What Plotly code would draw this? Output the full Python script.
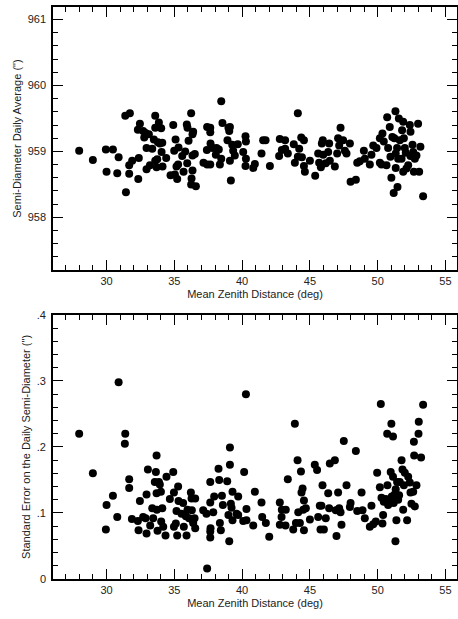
import plotly.graph_objects as go

# Top panel: mean zenith distance (deg) vs semi-diameter daily average (")
zd_top = [27.98, 28.99, 29.95, 30.0, 30.47, 30.79, 30.89, 31.38, 31.72, 31.43, 31.67, 31.89, 31.67, 32.34, 32.38,
          32.46, 32.31, 32.70, 32.78, 32.88, 32.95, 32.95, 33.12, 33.20, 33.37, 33.49, 33.59, 33.59, 33.59, 33.69,
          33.74, 33.79, 33.86, 33.93, 34.03, 34.06, 34.11, 34.13, 34.40, 34.72, 34.92, 34.99, 35.04, 35.09, 35.16,
          35.21, 35.28, 35.31, 35.58, 35.68, 35.80, 35.92, 35.95, 35.97, 36.05, 36.24, 36.27, 36.24, 36.34, 36.34,
          36.39, 36.34, 36.51, 36.59, 37.42, 37.40, 37.15, 37.42, 37.65, 37.65, 37.67, 37.65, 37.82, 38.06, 38.11,
          38.28, 38.36, 38.46, 38.46, 38.55, 38.92, 38.99, 39.05, 39.10, 39.17, 39.10, 39.27, 39.34, 39.46, 39.68,
          40.08, 40.25, 40.28, 40.28, 40.25, 40.82, 40.94, 41.43, 41.55, 41.73, 42.05, 42.73, 42.78, 42.93, 43.17,
          43.17, 43.37, 43.81, 43.89, 44.11, 44.11, 44.21, 44.36, 44.41, 44.56, 44.56, 44.63, 45.00, 45.39, 45.61,
          45.68, 45.81, 45.88, 45.95, 45.98, 46.17, 46.35, 46.42, 46.47, 46.84, 47.01, 47.08, 47.16, 47.26, 47.45,
          47.58, 47.70, 47.95, 48.00, 48.39, 48.49, 48.68, 48.98, 49.05, 49.42, 49.54, 49.67, 49.91, 50.16, 50.16,
          50.28, 50.35, 50.45, 50.65, 50.70, 50.77, 50.89, 50.94, 51.01, 51.08, 51.18, 51.31, 51.23, 51.33, 51.33,
          51.43, 51.46, 51.51, 51.56, 51.63, 51.76, 51.80, 51.88, 51.88, 51.93, 52.00, 52.07, 52.12, 52.25, 52.37,
          52.42, 52.42, 52.57, 52.62, 52.67, 52.74, 52.86, 52.98, 53.06, 53.15, 53.35]
sd_avg = [959.01, 958.87, 959.03, 958.69, 959.03, 958.67, 958.91, 959.54, 959.58, 958.38, 958.79, 958.86, 958.66, 958.58, 958.90,
          959.42, 959.33, 959.31, 959.21, 959.28, 959.05, 958.73, 959.26, 958.79, 959.04, 959.18, 959.54, 959.36, 958.86, 958.76,
          958.88, 959.14, 959.44, 959.12, 959.35, 958.99, 959.13, 958.77, 958.90, 958.64, 959.40, 959.01, 958.65, 959.18, 958.77,
          958.58, 958.80, 959.06, 958.93, 958.69, 959.00, 959.41, 958.82, 959.36, 959.16, 959.58, 958.59, 958.50, 959.26, 958.94,
          959.30, 958.71, 958.96, 958.47, 959.37, 959.02, 958.83, 958.80, 959.29, 959.36, 959.12, 958.80, 959.05, 958.95, 959.05,
          959.03, 958.80, 958.89, 959.76, 959.43, 959.17, 959.36, 959.31, 958.86, 958.56, 959.37, 959.10, 959.01, 958.94, 959.11,
          958.99, 959.23, 959.15, 958.89, 958.78, 958.75, 958.81, 958.97, 959.17, 959.17, 958.78, 958.93, 959.19, 959.02, 959.17,
          959.04, 958.97, 959.11, 958.83, 959.58, 958.92, 959.04, 959.21, 958.91, 959.17, 958.78, 958.69, 958.86, 958.63, 958.97,
          958.83, 958.76, 959.12, 959.17, 958.95, 958.82, 958.99, 959.12, 958.86, 958.77, 958.97, 959.20, 959.09, 959.36, 959.17,
          959.01, 958.97, 959.12, 958.54, 958.57, 958.83, 958.85, 959.01, 958.89, 958.80, 958.95, 959.09, 959.05, 958.83, 959.20,
          958.80, 959.27, 959.15, 958.79, 959.52, 959.05, 959.37, 958.92, 958.60, 959.22, 958.37, 959.61, 959.20, 958.97, 958.75,
          959.05, 958.46, 958.89, 959.50, 959.17, 958.89, 959.32, 959.45, 958.69, 959.20, 959.05, 958.98, 958.74, 958.79, 959.40,
          959.30, 958.93, 959.10, 958.99, 958.69, 958.89, 958.94, 959.42, 958.69, 959.07, 958.32]

# Bottom panel: mean zenith distance (deg) vs standard error on the daily semi-diameter (")
zd_bot = [27.98, 28.99, 29.95, 30.0, 30.47, 30.79, 30.89, 31.38, 31.35, 31.67, 31.67, 31.87, 32.31, 32.36, 32.46,
          32.70, 32.88, 32.95, 32.95, 33.05, 33.22, 33.37, 33.44, 33.56, 33.64, 33.69, 33.69, 33.71, 33.76, 33.86,
          33.93, 34.01, 34.03, 34.11, 34.18, 34.35, 34.42, 34.67, 34.92, 34.97, 34.97, 35.11, 35.16, 35.21, 35.28,
          35.31, 35.53, 35.65, 35.70, 35.85, 35.90, 35.97, 36.09, 36.22, 36.27, 36.29, 36.34, 36.39, 36.49, 36.54,
          36.54, 37.13, 37.37, 37.42, 37.65, 37.65, 37.67, 37.65, 37.65, 37.87, 37.94, 38.26, 38.31, 38.36, 38.43,
          38.51, 38.58, 38.90, 38.99, 39.10, 39.10, 39.05, 39.17, 39.22, 39.29, 39.29, 39.59, 39.71, 39.71, 40.08,
          40.15, 40.28, 40.32, 40.32, 40.82, 40.94, 41.43, 41.48, 41.75, 42.00, 42.78, 42.78, 42.91, 42.93, 43.20,
          43.22, 43.37, 43.77, 43.89, 43.97, 44.09, 44.14, 44.26, 44.34, 44.38, 44.46, 44.51, 44.56, 44.56, 44.70,
          45.00, 45.36, 45.53, 45.61, 45.73, 45.78, 45.85, 45.93, 46.03, 46.17, 46.35, 46.42, 46.47, 46.84, 46.91,
          46.96, 47.08, 47.16, 47.26, 47.33, 47.50, 47.70, 47.95, 48.00, 48.39, 48.49, 48.81, 48.88, 49.05, 49.42,
          49.54, 49.67, 49.86, 49.96, 50.16, 50.23, 50.28, 50.35, 50.40, 50.45, 50.60, 50.70, 50.72, 50.77, 50.89,
          50.96, 51.01, 51.04, 51.13, 51.13, 51.18, 51.25, 51.31, 51.33, 51.38, 51.43, 51.51, 51.58, 51.63, 51.76,
          51.83, 51.88, 51.93, 52.00, 52.17, 52.25, 52.37, 52.42, 52.49, 52.62, 52.67, 52.69, 52.74, 52.86, 53.01,
          53.03, 53.20, 53.35]
sd_err = [0.220, 0.160, 0.075, 0.112, 0.126, 0.094, 0.298, 0.220, 0.205, 0.151, 0.138, 0.091, 0.088, 0.074, 0.118,
          0.094, 0.092, 0.128, 0.069, 0.166, 0.081, 0.107, 0.092, 0.147, 0.162, 0.187, 0.130, 0.105, 0.073, 0.147,
          0.143, 0.132, 0.087, 0.107, 0.079, 0.066, 0.155, 0.121, 0.162, 0.131, 0.079, 0.084, 0.103, 0.066, 0.140,
          0.118, 0.099, 0.115, 0.079, 0.095, 0.066, 0.105, 0.092, 0.131, 0.122, 0.104, 0.089, 0.085, 0.092, 0.122,
          0.077, 0.104, 0.099, 0.016, 0.147, 0.116, 0.077, 0.072, 0.063, 0.101, 0.125, 0.167, 0.150, 0.085, 0.074,
          0.126, 0.112, 0.148, 0.097, 0.199, 0.173, 0.057, 0.114, 0.108, 0.132, 0.089, 0.099, 0.125, 0.097, 0.088,
          0.162, 0.280, 0.106, 0.089, 0.081, 0.132, 0.116, 0.094, 0.085, 0.064, 0.116, 0.082, 0.094, 0.105, 0.081,
          0.105, 0.151, 0.075, 0.235, 0.085, 0.180, 0.101, 0.085, 0.163, 0.131, 0.137, 0.105, 0.119, 0.074, 0.107,
          0.090, 0.173, 0.165, 0.094, 0.111, 0.075, 0.111, 0.142, 0.075, 0.092, 0.130, 0.107, 0.175, 0.180, 0.104,
          0.065, 0.131, 0.107, 0.101, 0.082, 0.209, 0.142, 0.109, 0.115, 0.194, 0.103, 0.131, 0.104, 0.092, 0.079,
          0.111, 0.083, 0.087, 0.161, 0.139, 0.265, 0.123, 0.084, 0.097, 0.117, 0.121, 0.220, 0.142, 0.112, 0.116,
          0.162, 0.235, 0.125, 0.216, 0.155, 0.115, 0.128, 0.057, 0.136, 0.089, 0.147, 0.120, 0.127, 0.147, 0.180,
          0.166, 0.105, 0.142, 0.161, 0.089, 0.155, 0.146, 0.131, 0.114, 0.132, 0.208, 0.187, 0.110, 0.142, 0.220,
          0.238, 0.184, 0.264]

# Tick label text for the lower panel (leading zero dropped as in the original)
bot_label_alias = {"0.1": ".1", "0.2": ".2", "0.3": ".3", "0.4": ".4", "0.0": "0"}

FONT = "Liberation Sans, Arial, sans-serif"
TXT = "#222"
X_RANGE = [26.05, 55.85]
TOP_Y_RANGE = [957.2, 961.19]
BOT_Y_RANGE = [0, 0.4]
TOP_DOM = [0.540, 1.0]
BOT_DOM = [0.0, 0.4617]

marker = dict(color="black", size=8, line=dict(width=0))
label_font = dict(family=FONT, size=11, color=TXT)

fig = go.Figure()
fig.add_trace(go.Scatter(x=zd_top, y=sd_avg, mode="markers", marker=marker, xaxis="x", yaxis="y",
                         showlegend=False))
fig.add_trace(go.Scatter(x=zd_bot, y=sd_err, mode="markers", marker=marker, xaxis="x2", yaxis="y2",
                         showlegend=False))


def tick_ax(overlay, side, anchor, rng, tick0, dtick, length, frame=False):
    """Overlay axis that only draws inward tick marks (and optionally the frame lines)."""
    d = dict(overlaying=overlay, side=side, anchor=anchor, range=rng, tickmode="linear", tick0=tick0,
             dtick=dtick, ticks="inside", ticklen=length, tickwidth=1, tickcolor="black",
             showgrid=False, zeroline=False, showline=False, showticklabels=False)
    if frame:
        d.update(showline=True, mirror=True, linecolor="black", linewidth=1.5)
    return d


layout_axes = {}
# (main x, main y, y range, y tick0, y major, y minor, first overlay number)
panels = [("x", "y", TOP_Y_RANGE, 958, 1, 0.2, 3), ("x2", "y2", BOT_Y_RANGE, 0, 0.1, 0.02, 4)]
for mx, my, yr, y0, ymaj, ymin, n in panels:
    # top edge: minor, then major + frame (mirror gives the bottom frame line)
    layout_axes["xaxis%d" % n] = tick_ax(mx, "top", my, X_RANGE, 30, 1, 5)
    fig.add_trace(go.Scatter(x=[], y=[], mode="markers", xaxis="x%d" % n, yaxis=my, showlegend=False))
    layout_axes["xaxis%d" % (n + 2)] = tick_ax(mx, "top", my, X_RANGE, 30, 5, 10, frame=True)
    fig.add_trace(go.Scatter(x=[], y=[], mode="markers", xaxis="x%d" % (n + 2), yaxis=my, showlegend=False))
    # right edge: minor, then major + frame (mirror gives the left frame line)
    layout_axes["yaxis%d" % n] = tick_ax(my, "right", mx, yr, y0, ymin, 5)
    fig.add_trace(go.Scatter(x=[], y=[], mode="markers", xaxis=mx, yaxis="y%d" % n, showlegend=False))
    layout_axes["yaxis%d" % (n + 2)] = tick_ax(my, "right", mx, yr, y0, ymaj, 10, frame=True)
    fig.add_trace(go.Scatter(x=[], y=[], mode="markers", xaxis=mx, yaxis="y%d" % (n + 2), showlegend=False))
    # left edge minor ticks
    layout_axes["yaxis%d" % (n + 4)] = tick_ax(my, "left", mx, yr, y0, ymin, 5)
    fig.add_trace(go.Scatter(x=[], y=[], mode="markers", xaxis=mx, yaxis="y%d" % (n + 4), showlegend=False))


def main_ax(**kw):
    d = dict(showgrid=False, zeroline=False, showline=False, ticks="inside", ticklen=10, tickwidth=1,
             tickcolor="black", tickfont=label_font, tickmode="linear")
    d.update(kw)
    return d


x_minor = dict(ticks="inside", dtick=1, ticklen=5, tickwidth=1, tickcolor="black")
x_title = dict(text="Mean Zenith Distance (deg)", font=label_font, standoff=4)

fig.update_layout(
    width=458, height=619,
    margin=dict(l=53, r=1, t=5, b=40),
    paper_bgcolor="white", plot_bgcolor="white",
    xaxis=main_ax(domain=[0, 1], anchor="y", range=X_RANGE, tick0=30, dtick=5, minor=x_minor,
                  title=x_title, ticklabelstandoff=3),
    yaxis=main_ax(domain=TOP_DOM, anchor="x", range=TOP_Y_RANGE, tick0=958, dtick=1,
                  title=dict(text='Semi-Diameter Daily Average (")', font=label_font, standoff=3),
                  ticklabelstandoff=6),
    xaxis2=main_ax(domain=[0, 1], anchor="y2", range=X_RANGE, tick0=30, dtick=5, minor=x_minor,
                   title=x_title, ticklabelstandoff=3),
    yaxis2=main_ax(domain=BOT_DOM, anchor="x2", range=BOT_Y_RANGE, tick0=0, dtick=0.1,
                   tickformat=".1f", labelalias=bot_label_alias,
                   title=dict(text='Standard Error on the Daily Semi-Diameter (")', font=label_font, standoff=3),
                   ticklabelstandoff=6),
    **layout_axes,
)

fig.write_html("out.html")
